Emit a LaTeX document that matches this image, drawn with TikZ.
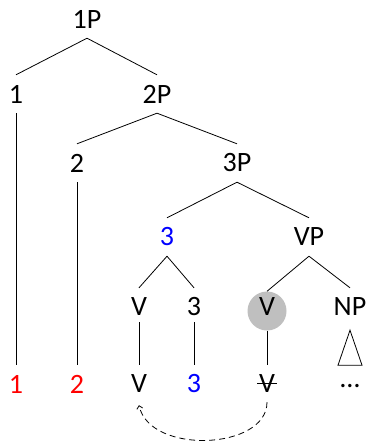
\documentclass[tikz,border=0pt]{standalone}
\usepackage{fontspec}
\setmainfont{Carlito}
\usetikzlibrary{arrows.meta,calc}
\begin{document}
\begin{tikzpicture}[x=1pt,y=-1pt,
  lab/.style={font=\fontsize{28}{32}\selectfont, inner sep=0pt, minimum height=38pt},
  br/.style={line width=0.8pt},
  red/.style={text={rgb,255:red,255;green,0;blue,0}},
  blu/.style={text={rgb,255:red,0;green,0;blue,255}},
  hl/.style={circle, fill=gray!50, minimum size=39pt, inner sep=0pt},
  mv/.style={line width=0.8pt, dash pattern=on 6pt off 4pt, -{Straight Barb[length=3pt,width=6pt]}}]
\path[use as bounding box] (0,0) rectangle (369,443);
% tree nodes
\node[lab] (p1) at (87,19) {1P};
\node[lab] (h1) at (16,94) {1};
\node[lab] (p2) at (157,94) {2P};
\node[lab] (h2) at (77,163) {2};
\node[lab] (p3) at (237,163) {3P};
\node[lab,blu] (h3) at (167,237) {3};
\node[lab] (vp) at (309,237) {VP};
\node[lab] (va) at (139,307) {V};
\node[lab] (ta) at (194,307) {3};
\node[hl] (vc) at (267,311) {};
\node[lab] (vb) at (267,307) {V};
\node[lab] (np) at (350,307) {NP};
% bottom row
\node[lab,red] (b1) at (16,384) {1};
\node[lab,red] (b2) at (77,384) {2};
\node[lab] (bv) at (139,384) {V};
\node[lab,blu] (b3) at (194,384) {3};
\node[lab] (bs) at (267,384) {V};
\node[lab] (dots) at (350,386) {\dots};
% branches
\draw[br] (p1.south) -- (h1.north);
\draw[br] (p1.south) -- (p2.north);
\draw[br] (p2.south) -- (h2.north);
\draw[br] (p2.south) -- (p3.north);
\draw[br] (p3.south) -- (h3.north);
\draw[br] (p3.south) -- (vp.north);
\draw[br] (h3.south) -- (va.north);
\draw[br] (h3.south) -- (ta.north);
\draw[br] (vp.south) -- (vc.north);
\draw[br] (vp.south) -- (np.north);
\draw[br] (h1.south) -- (b1.north);
\draw[br] (h2.south) -- (b2.north);
\draw[br] ($(va.south)+(0,-4)$) -- (bv.north);
\draw[br] ($(ta.south)+(0,-4)$) -- (b3.north);
\draw[br] (vc.south) -- (bs.north);
\draw[br] ($(np.south)+(0,4)$) -- ++(-12,35) -- ++(24,0) -- cycle;
% strike-through of the lower copy
\draw[line width=0.9pt] ($(bs.center)+(-10,-1)$) -- ($(bs.center)+(10,-1)$);
% movement arrow
\draw[mv] ($(bs.south)+(0,-1)$) .. controls (267,450) and (150,455) .. ($(bv.south)+(0,2)$);
\end{tikzpicture}
\end{document}
